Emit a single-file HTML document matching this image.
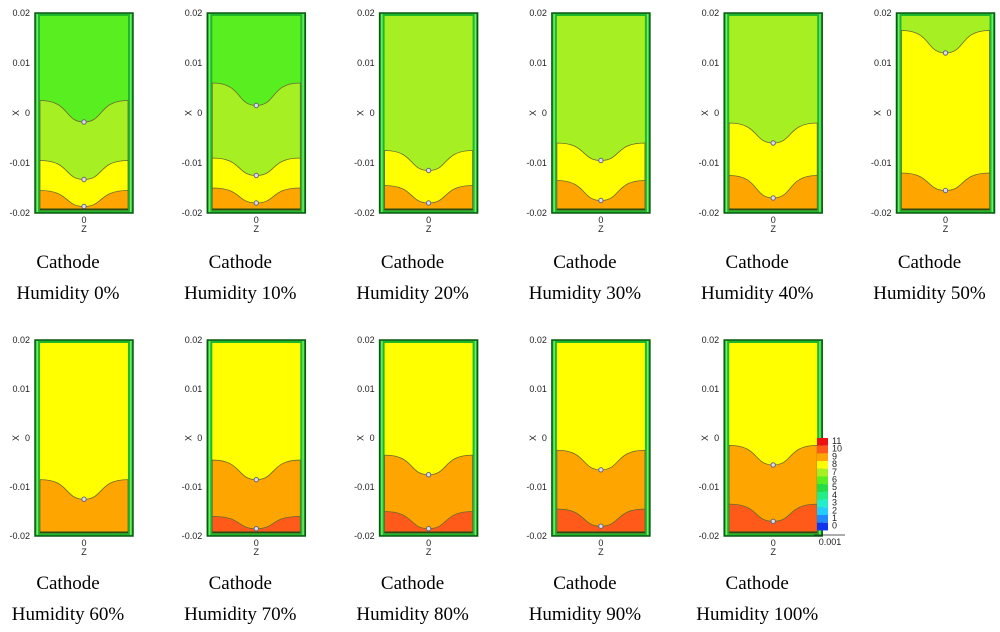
<!DOCTYPE html>
<html><head><meta charset="utf-8">
<style>
body{margin:0;background:#fff;width:1000px;height:632px;overflow:hidden}
svg{display:block}
.tk{font:9px "Liberation Sans",sans-serif;fill:#222}
.cap{font:19px "Liberation Serif",serif;fill:#000}
</style></head><body>
<svg id="c" width="1000" height="632"></svg>
<script>
// humidity labels per panel
const humidity = ["0%","10%","20%","30%","40%","50%","60%","70%","80%","90%","100%"];
// top band level per panel (color index)
const topLevel = [7,7,8,8,8,8,9,9,9,9,9];
// boundary edge values (data x) per panel
const boundEdge = [[0.0025,-0.0095,-0.0155],[0.006,-0.009,-0.015],[-0.0075,-0.0145],[-0.006,-0.0135],[-0.002,-0.0125],[0.0165,-0.012],[-0.0085],[-0.0045,-0.016],[-0.0035,-0.015],[-0.0025,-0.0145],[-0.0015,-0.0135]];
// boundary center values (data x)
const boundCenter = [[-0.0018,-0.0133,-0.0187],[0.0015,-0.0125,-0.018],[-0.0115,-0.018],[-0.0095,-0.0175],[-0.006,-0.017],[0.012,-0.0155],[-0.0125],[-0.0085,-0.0185],[-0.0075,-0.0185],[-0.0065,-0.018],[-0.0055,-0.017]];
const yTicks = [0.02,0.01,0,-0.01,-0.02];
const yTickLabels = ["0.02","0.01","0","-0.01","-0.02"];
const legendLevels = [11,10,9,8,7,6,5,4,3,2,1,0];
const levelColor = {7:"#58ee20",8:"#a6ef22",9:"#ffff00",10:"#ffa500",11:"#ff5a1a"};
const legendColors = ["#ee1111","#ff5a1a","#ffa500","#ffff00","#a6ef22","#58ee20","#22dd44","#22ee88","#22eecc","#22ccff","#2288ff","#1133ee"];

const NS="http://www.w3.org/2000/svg", svg=document.getElementById('c');
function mk(t,a,p){const e=document.createElementNS(NS,t);for(const k in a)e.setAttribute(k,a[k]);(p||svg).appendChild(e);return e;}

humidity.forEach((h,i)=>{
  const row=i<6?0:1, col=i%6;
  const L=35+172.3*col, W=98;
  const T=row?340:13, B=row?536:213;
  const ys=v=>T+(0.02-v)/0.04*(B-T);
  const g=mk('g',{});
  
  
  const fr=mk('rect',{x:L,y:T,width:W,height:B-T,fill:'#1fb82a',stroke:'#0c5a12','stroke-width':1.5},g);
  
  
  mk('rect',{x:L+1.5,y:T+1,width:1.5,height:B-T-2,fill:'#6ef06a'},g);
  mk('rect',{x:L+W-3,y:T+1,width:1.5,height:B-T-2,fill:'#6ef06a'},g);
  const iL=L+5,iR=L+W-5,iT=T+3,iB=B-3,cx=(iL+iR)/2;
  mk('rect',{x:iL,y:iT,width:iR-iL,height:iB-iT,fill:levelColor[topLevel[i]]},g);
  boundEdge[i].forEach((e,k)=>{
    const c=boundCenter[i][k], ye=ys(e), yc=ys(c), lvl=topLevel[i]+k+1;
    const d=`M${iL},${ye} C${iL+30},${ye} ${cx-20},${yc} ${cx},${yc} C${cx+20},${yc} ${iR-30},${ye} ${iR},${ye} L${iR},${iB} L${iL},${iB} Z`;
    const p=mk('path',{d,fill:levelColor[lvl],stroke:'#6a6a30','stroke-width':0.8},g);
    
    
    mk('circle',{cx:cx,cy:yc,r:2.2,fill:'#dde',stroke:'#667'},g);
  });
  mk('rect',{x:iL,y:iB-1.5,width:iR-iL,height:1.5,fill:'#2a4a10'},g);
  yTicks.forEach((v,k)=>{
    const t=mk('text',{x:L-5,y:ys(v)+3,'text-anchor':'end',class:'tk'},g);t.textContent=yTickLabels[k];
  });
  const xl=mk('text',{x:L-20,y:(T+B)/2+4,class:'tk','font-weight':'bold','font-size':'10',transform:`rotate(-90 ${L-20} ${(T+B)/2})`,'text-anchor':'middle'},g);xl.textContent='X';
  const z0=mk('text',{x:cx,y:B+10,class:'tk','text-anchor':'middle'},g);z0.textContent='0';
  const zl=mk('text',{x:cx,y:B+19,class:'tk','font-weight':'bold','font-size':'10','text-anchor':'middle'},g);zl.textContent='Z';
  const capY=row?583:262;
  const c1=mk('text',{x:L+33,y:capY+6,class:'cap','text-anchor':'middle'},g);c1.textContent='Cathode';
  
  
  const c2=mk('text',{x:L+33,y:capY+37,class:'cap','text-anchor':'middle'},g);c2.textContent='Humidity '+h;
  
  
});
// legend
const lg=mk('g',{});


const lx=817,ly=438,lh=7.7;
legendLevels.forEach((v,k)=>{
  mk('rect',{x:lx,y:ly+k*lh,width:11,height:lh,fill:legendColors[k]},lg);
  const t=mk('text',{x:lx+15,y:ly+k*lh+6,class:'tk','font-size':'7'},lg);t.textContent=v;
});
mk('line',{x1:lx-3,y1:535,x2:845,y2:535,stroke:'#222','stroke-width':0.8},lg);
const tl=mk('text',{x:830,y:545,class:'tk','text-anchor':'middle'},lg);tl.textContent='0.001';
</script>
</body></html>
